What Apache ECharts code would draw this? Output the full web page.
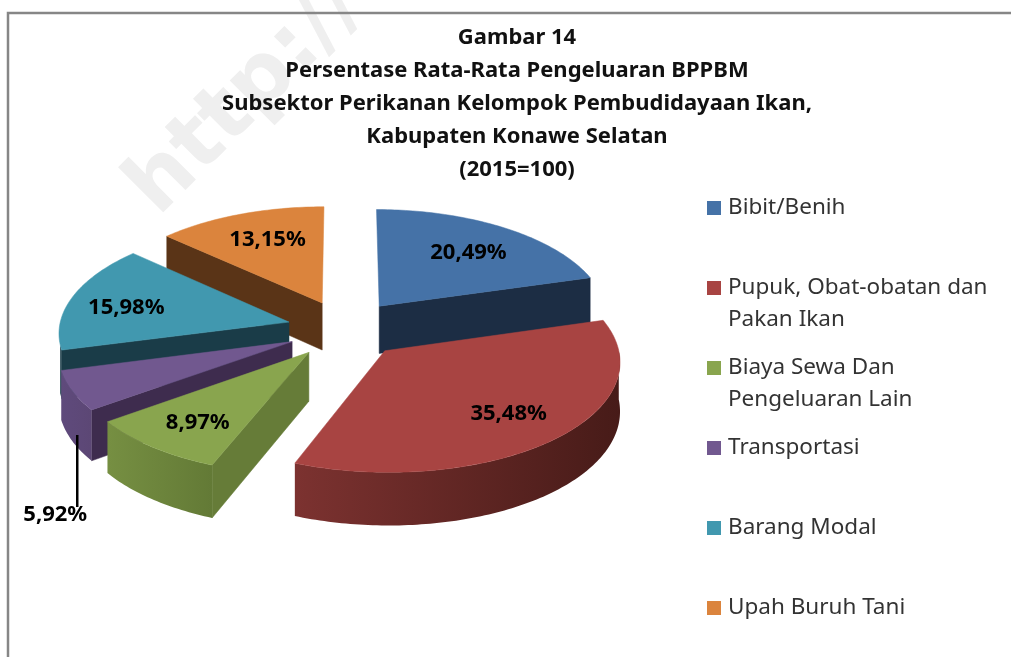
<!DOCTYPE html>
<html><head><meta charset="utf-8">
<style>html,body{margin:0;padding:0;background:#fff}#c{width:1011px;height:657px}</style>
<script src="https://cdn.jsdelivr.net/npm/echarts@6/dist/echarts.min.js"></script>
</head><body><div id="c"></div>
<script>
const categories = ['Bibit/Benih','Pupuk, Obat-obatan dan\nPakan Ikan','Biaya Sewa Dan\nPengeluaran Lain','Transportasi','Barang Modal','Upah Buruh Tani'];
const values = [20.49,35.48,8.97,5.92,15.98,13.15];
const titleLines = ['Gambar 14','Persentase Rata-Rata Pengeluaran BPPBM','Subsektor Perikanan Kelompok Pembudidayaan Ikan,','Kabupaten Konawe Selatan','(2015=100)'];

// styling
const topColors  = ['#4572A7','#A84442','#89A54E','#71588F','#4198AF','#DB843D'];
const wallColors = ['#1c2d44','#4a1c1a','#667c38','#3e2c4e','#1a3c48','#5a3417'];
const arcStops   = [['#1c2d44','#1c2d44'],['#7c3230','#471b18'],['#768f42','#637a36'],['#5f4a7c','#5c4775'],['#1a3c48','#1a3c48'],['#5a3417','#5a3417']];
const labelFrac  = [0.62,0.77,0.78,null,0.72,0.61];
const labelNudge = [[10,-4],[-6,-4],[9,-2],[1,4],[-6,4],[-3,-8]];
const paintOrder = [1,6,5,4,3,2];
const legendCenters = [207,287,367,447,527,607];

const CX=345, CY=329, RX=230, RY=108, EX=58, EY=29, DEPTH=48, KX=0.0008, KY=0.00075, RAD=Math.PI/180;
const total = values.reduce((a,b)=>a+b,0);
let acc=0;
const spans = values.map(v=>{const s=acc; acc+=v/total*360; return [s,acc];});

function pt(i,t,f,down){
  const m=(spans[i][0]+spans[i][1])/2*RAD, a=t*RAD;
  const X=EX*Math.sin(m)+f*RX*Math.sin(a), Y=-(EY*Math.cos(m)+f*RY*Math.cos(a));
  const sx=1/(1-KX*Y), sy=1/(1-KY*Y);
  return [CX+X*sx, CY+Y*sy+(down?DEPTH*sy:0)];
}
function arc(i,a,b,down){const o=[];const n=Math.max(1,Math.ceil(Math.abs(b-a)));for(let k=0;k<=n;k++)o.push(pt(i,a+(b-a)*k/n,1,down));return o;}
function poly(points,fill,stroke){return {type:'polygon',shape:{points},style:{fill,stroke:stroke||fill,lineWidth:0.5}};}

function renderSlice(i){
  return function(){
    const [a,b]=spans[i], ch=[];
    const wall=t=>poly([pt(i,t,0,false),pt(i,t,1,false),pt(i,t,1,true),pt(i,t,0,true)],wallColors[i]);
    if(Math.sin(a*RAD)<-0.01) ch.push(wall(a));
    if(Math.sin(b*RAD)>0.01) ch.push(wall(b));
    const fa=Math.max(a,90), fb=Math.min(b,258);
    if(fb>fa){
      const top=arc(i,fa,fb,false), bot=arc(i,fa,fb,true).reverse();
      ch.push(poly(top.concat(bot),{type:'linear',x:1,y:0,x2:0,y2:0,colorStops:[{offset:0,color:arcStops[i][1]},{offset:1,color:arcStops[i][0]}]},'transparent'));
    }
    ch.push(poly([pt(i,a,0,false)].concat(arc(i,a,b,false)),topColors[i]));
    const txt=values[i].toFixed(2).replace('.',',')+'%';
    const ts={fontFamily:'Noto Sans',fontWeight:'bold',fontSize:22,fill:'#000',align:'center',verticalAlign:'middle',text:txt};
    const mid=(a+b)/2, nd=labelNudge[i];
    if(labelFrac[i]!==null){
      const p=pt(i,mid,labelFrac[i],false);
      ch.push({type:'text',x:p[0]+nd[0],y:p[1]+nd[1],style:ts,z2:50});
    }else{
      const p=pt(i,mid,1,true);
      const lx=p[0]+5;
      ch.push({type:'line',shape:{x1:lx,y1:p[1]-6,x2:lx,y2:p[1]+66},style:{stroke:'#000',lineWidth:2.5},z2:50});
      ch.push({type:'text',x:lx-23+nd[0],y:p[1]+70+nd[1],style:ts,z2:50});
    }
    return {type:'group',children:ch};
  };
}

const chart=echarts.init(document.getElementById('c'),null,{renderer:'canvas'});
chart.setOption({
  animation:false,
  backgroundColor:'#fff',
  title:{text:titleLines.join('\n'),left:517,top:21,textAlign:'center',
    textStyle:{fontFamily:'Noto Sans',fontWeight:'bold',fontSize:22,lineHeight:33,color:'#111'},padding:0},
  legend:categories.map((c,i)=>{
    const two=c.indexOf('\n')>=0;
    return {data:[c],left:707,top:legendCenters[i]-15,orient:'vertical',padding:0,selectedMode:false,
      itemWidth:14,itemHeight:two?46:14,itemGap:0,
      icon:two?'path://M0,0H14V14H0ZM0,46H14V46Z':'rect',
      textStyle:{fontFamily:'Noto Sans',fontSize:22.5,lineHeight:32,color:'#333',padding:[0,0,0,2]}};
  }),
  graphic:[
    {type:'text',x:113,y:172,rotation:Math.PI/4,z:0,silent:true,
      style:{text:'http://',fontFamily:'DejaVu Sans',fontWeight:'bold',fontSize:84,fill:'#efefef'}},
    {type:'polyline',z:1,silent:true,shape:{points:[[8,657],[8,13],[1011,13]]},style:{stroke:'#868686',lineWidth:2.5,fill:'none'}}
  ],
  series:categories.map((c,i)=>({
    type:'custom',name:c,coordinateSystem:'none',z:paintOrder[i]+1,silent:true,
    itemStyle:{color:topColors[i]},
    data:[[values[i]]],renderItem:renderSlice(i)
  }))
});
</script></body></html>
